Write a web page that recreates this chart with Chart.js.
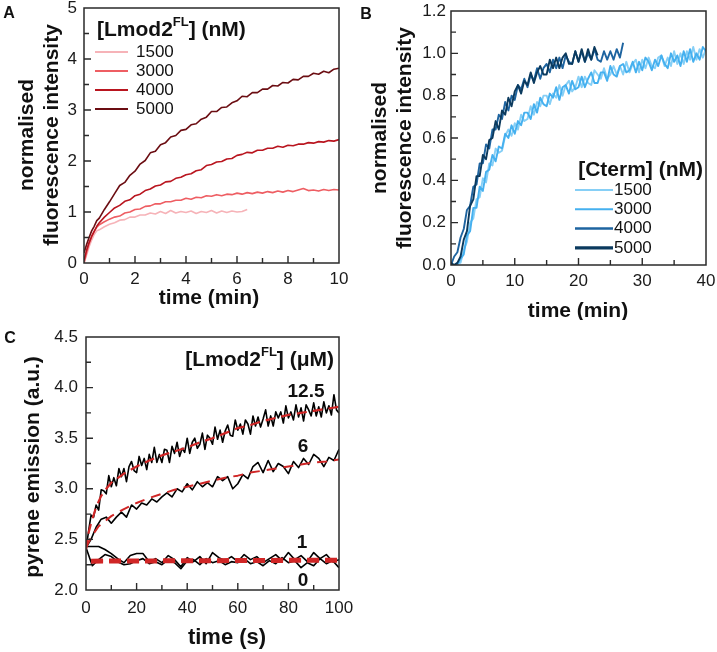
<!DOCTYPE html>
<html><head><meta charset="utf-8">
<script src="https://cdn.jsdelivr.net/npm/chart.js@4.4.1/dist/chart.umd.min.js"></script>
<style>
html,body{margin:0;padding:0;background:#fff;}
#wrap{position:relative;width:717px;height:652px;overflow:hidden;background:#fff;}
canvas{position:absolute;}
</style></head><body>
<div id="wrap">
<canvas id="cA" width="360" height="320" style="left:0;top:0;width:360px;height:320px"></canvas>
<canvas id="cB" width="357" height="320" style="left:360px;top:0;width:357px;height:320px"></canvas>
<canvas id="cC" width="440" height="332" style="left:0;top:320px;width:440px;height:332px"></canvas>
</div>
<script>
// ---------------- Panel A data ----------------
const aSeriesNames = ['1500','3000','4000','5000'];
const aTime = [0,0.1,0.2,0.3,0.4,0.5,0.6,0.8,1,1.2,1.4,1.6,1.8,2,2.2,2.4,2.6,2.8,3,3.2,3.4,3.6,3.8,4,4.2,4.4,4.6,4.8,5,5.2,5.4,5.6,5.8,6,6.2,6.4,6.6,6.8,7,7.2,7.4,7.6,7.8,8,8.2,8.4,8.6,8.8,9,9.2,9.4,9.6,9.8,10];
const a1500 = [0.00,0.15,0.32,0.45,0.56,0.63,0.65,0.71, 0.76,0.79,0.84,0.85,0.90,0.90,0.94,0.94,0.98,0.96, 1.01,0.97,1.03,0.98,1.01,0.99,1.02,0.97,1.01,0.99, 1.03,0.98,1.02,0.99,1.02,1.00,1.01,1.05];
const a3000 = [0.00,0.20,0.38,0.52,0.62,0.70,0.75,0.81, 0.86,0.90,0.92,0.98,1.00,1.05,1.06,1.11,1.12,1.16, 1.16,1.20,1.20,1.23,1.23,1.27,1.25,1.29,1.28,1.32, 1.31,1.34,1.32,1.35,1.34,1.37,1.35,1.38,1.36,1.39, 1.37,1.40,1.38,1.41,1.39,1.42,1.40,1.43,1.46,1.42, 1.43,1.41,1.44,1.42,1.44,1.43];
const a4000 = [0.05,0.25,0.40,0.52,0.62,0.72,0.79,0.90, 0.99,1.08,1.13,1.21,1.24,1.32,1.35,1.42,1.45,1.51, 1.53,1.59,1.60,1.66,1.68,1.73,1.75,1.81,1.83,1.91, 1.93,1.98,1.99,2.04,2.05,2.11,2.13,2.17,2.16,2.21, 2.21,2.25,2.25,2.29,2.27,2.31,2.30,2.33,2.33,2.36, 2.35,2.38,2.37,2.40,2.39,2.42];
const a5000 = [0.20,0.36,0.50,0.63,0.72,0.83,0.88,1.05, 1.20,1.36,1.52,1.58,1.72,1.80,1.94,2.01,2.16,2.19, 2.32,2.36,2.47,2.50,2.60,2.62,2.71,2.73,2.82,2.86, 2.97,2.97,3.05,3.06,3.14,3.18,3.27,3.26,3.34,3.34, 3.41,3.41,3.48,3.47,3.54,3.53,3.60,3.59,3.66,3.66, 3.72,3.70,3.76,3.73,3.80,3.82];
const aXMajor = [0,2,4,6,8,10], aXMinor = [1,3,5,7,9];
const aXLabels = ['0','2','4','6','8','10'];
const aYMajor = [0,1,2,3,4,5], aYMinor = [0.5,1.5,2.5,3.5,4.5];
const aYLabels = ['0','1','2','3','4','5'];

// ---------------- Panel B data ----------------
const bSeriesNames = ['1500','3000','4000','5000'];
const bTime = [0,0.5,1,1.5,2,2.5,3,3.5,4,4.5,5,5.5,6,6.5,7,7.5,8,8.5,9,9.5,10,10.5,11,11.5,12,12.5,13,13.5,14,14.5,15,15.5,16,16.5,17,17.5,18,18.5,19,19.5,20,20.5,21,21.5,22,22.5,23,23.5,24,24.5,25,25.5,26,26.5,27,27.5,28,28.5,29,29.5,30,30.5,31,31.5,32,32.5,33,33.5,34,34.5,35,35.5,36,36.5,37,37.5,38,38.5,39,39.5,40];
const b1500 = [0.00,0.00,0.01,0.01,0.07,0.11,0.20,0.22,0.31,0.32, 0.41,0.39,0.48,0.47,0.55,0.53,0.54,0.61,0.64,0.61, 0.67,0.64,0.71,0.68,0.69,0.75,0.71,0.77,0.75,0.80, 0.80,0.76,0.81,0.79,0.85,0.80,0.85,0.87,0.82,0.84, 0.89,0.84,0.89,0.86,0.85,0.92,0.90,0.88,0.93,0.88, 0.90,0.94,0.90,0.94,0.90,0.96,0.91,0.95,0.97,0.91, 0.97,0.93,0.98,0.94,0.93,0.98,0.99,0.94,0.98,0.94, 1.01,0.95,1.00,0.95,1.01,0.97,1.03,0.97,1.02,0.98, 1.02];
const b3000 = [0.00,0.00,0.00,0.03,0.05,0.14,0.16,0.27,0.27,0.37, 0.35,0.44,0.45,0.52,0.49,0.56,0.55,0.62,0.60,0.66, 0.62,0.68,0.66,0.72,0.72,0.69,0.76,0.72,0.79,0.76, 0.75,0.81,0.79,0.84,0.78,0.84,0.85,0.81,0.87,0.83, 0.84,0.89,0.84,0.88,0.91,0.86,0.86,0.91,0.91,0.87, 0.94,0.90,0.89,0.94,0.95,0.91,0.92,0.96,0.91,0.96, 0.92,0.98,0.96,0.92,0.97,0.94,0.99,0.95,0.93,1.00, 0.96,0.99,0.94,1.01,0.96,1.02,0.96,1.00,0.97,1.03, 1.01];
const b4000 = [0.00,0.04,0.06,0.13,0.17,0.26,0.28,0.37,0.38,0.48, 0.48,0.57,0.55,0.64,0.64,0.71,0.69,0.77,0.73,0.80, 0.78,0.85,0.83,0.88,0.84,0.90,0.87,0.93,0.88,0.93, 0.95,0.91,0.97,0.93,0.98,0.93,0.99,0.96,0.95,1.01, 0.96,1.01,0.96,1.00,0.97,1.02,0.97,0.96,1.01,0.97, 1.01,0.97,1.02,0.98,1.05];
const b5000 = [0.01,0.00,0.01,0.04,0.12,0.16,0.28,0.31,0.42,0.42, 0.52,0.50,0.59,0.60,0.68,0.64,0.73,0.71,0.79,0.75, 0.82,0.85,0.81,0.87,0.85,0.91,0.86,0.91,0.94,0.90, 0.90,0.97,0.93,0.98,0.93,0.98,1.00,0.95,0.95,1.01, 0.96,1.02,0.96,1.02,0.97,1.03,0.99];
const bXMajor = [0,10,20,30,40], bXMinor = [5,15,25,35];
const bXLabels = ['0','10','20','30','40'];
const bYMajor = [0,0.2,0.4,0.6,0.8,1.0,1.2], bYMinor = [0.1,0.3,0.5,0.7,0.9,1.1];
const bYLabels = ['0.0','0.2','0.4','0.6','0.8','1.0','1.2'];

// ---------------- Panel C data ----------------
const cTime1 = [0,1,2,3,4,5,6,7,8,9,10,11,12,13,14,15,16,17,18,19,20,21,22,23,24,25,26,27,28,29,30,31,32,33,34,35,36,37,38,39,40,41,42,43,44,45,46,47,48,49,50,51,52,53,54,55,56,57,58,59,60,61,62,63,64,65,66,67,68,69,70,71,72,73,74,75,76,77,78,79,80,81,82,83,84,85,86,87,88,89,90,91,92,93,94,95,96,97,98,99,100];
const c125 = [2.40,2.58,2.74,2.72,2.84,2.79,2.99,2.98,2.95,3.13, 3.02,3.11,3.03,3.20,3.12,3.20,3.07,3.22,3.27,3.18, 3.16,3.32,3.23,3.30,3.19,3.34,3.26,3.41,3.26,3.34, 3.26,3.39,3.38,3.26,3.42,3.35,3.46,3.32,3.40,3.36, 3.50,3.35,3.46,3.50,3.40,3.44,3.55,3.39,3.53,3.50, 3.44,3.61,3.49,3.58,3.46,3.57,3.63,3.53,3.52,3.68, 3.58,3.64,3.54,3.68,3.64,3.54,3.72,3.62,3.71,3.61, 3.69,3.78,3.62,3.72,3.62,3.76,3.70,3.76,3.65,3.82, 3.70,3.76,3.68,3.83,3.71,3.80,3.67,3.83,3.78,3.72, 3.85,3.72,3.81,3.71,3.86,3.75,3.82,3.73,3.93,3.78, 3.75];
const cTime2 = [0,2,4,6,8,10,12,14,16,18,20,22,24,26,28,30,32,34,36,38,40,42,44,46,48,50,52,54,56,58,60,62,64,66,68,70,72,74,76,78,80,82,84,86,88,90,92,94,96,98,100];
const c6 = [2.42,2.50,2.62,2.70,2.72,2.66,2.72,2.77,2.72,2.84, 2.80,2.86,2.84,2.90,2.87,2.92,2.96,2.92,3.00,2.97, 3.05,2.99,3.07,3.02,3.06,3.02,3.12,3.08,3.12,3.00, 3.05,3.14,3.10,3.22,3.26,3.16,3.28,3.17,3.25,3.22, 3.15,3.27,3.21,3.30,3.24,3.34,3.30,3.22,3.31,3.28, 3.39];
const cTime25 = [0,2.5,5,7.5,10,12.5,15,17.5,20,22.5,25,27.5,30,32.5,35,37.5,40,42.5,45,47.5,50,52.5,55,57.5,60,62.5,65,67.5,70,72.5,75,77.5,80,82.5,85,87.5,90,92.5,95,97.5,100];
const c1 = [2.43,2.43,2.43,2.40,2.36,2.31,2.27,2.34,2.36,2.36, 2.28,2.31,2.27,2.34,2.30,2.23,2.32,2.28,2.33,2.26, 2.37,2.32,2.29,2.33,2.28,2.35,2.30,2.33,2.27,2.31, 2.35,2.29,2.37,2.30,2.34,2.28,2.37,2.31,2.35,2.28, 2.30];
const c0 = [2.42,2.24,2.30,2.35,2.33,2.28,2.25,2.26,2.29,2.31, 2.26,2.28,2.25,2.30,2.27,2.21,2.29,2.30,2.25,2.31, 2.27,2.29,2.25,2.28,2.27,2.31,2.26,2.28,2.24,2.29, 2.26,2.32,2.27,2.29,2.22,2.27,2.24,2.31,2.26,2.29, 2.22];
const cFitTime125 = [0,1,2,4,6,8,10,15,20,25,30,35,40,45,50,55,60,65,70,75,80,85,90,95,100];
const cFit125 = [2.40,2.56,2.66,2.82,2.93,3.00,3.06,3.15,3.22,3.28,3.33,3.37,3.41,3.46,3.50,3.55,3.60,3.63,3.67,3.70,3.73,3.75,3.77,3.79,3.81];
const cFitTime6 = [0,2,5,10,15,20,25,30,35,40,45,50,55,60,65,70,75,80,85,90,95,100];
const cFit6 = [2.42,2.52,2.63,2.73,2.80,2.86,2.91,2.95,2.99,3.02,3.05,3.08,3.11,3.13,3.16,3.18,3.20,3.22,3.24,3.26,3.27,3.29];
const cFitTimeLow = [2,100];
const cFit1 = [2.29,2.30];
const cFit0 = [2.28,2.29];
const cCurveLabels = ['12.5','6','1','0'];
const cXMajor = [0,20,40,60,80,100], cXMinor = [10,30,50,70,90];
const cXLabels = ['0','20','40','60','80','100'];
const cYMajor = [2.0,2.5,3.0,3.5,4.0,4.5], cYMinor = [2.25,2.75,3.25,3.75,4.25];
const cYLabels = ['2.0','2.5','3.0','3.5','4.0','4.5'];

// ---------------- helpers ----------------
const FONT = '"Liberation Sans", Arial, Helvetica, sans-serif';
const pts = (xs, ys) => ys.map((y, i) => ({x: xs[i], y}));
const near = (a, b) => Math.abs(a - b) < 1e-9;

function axis(isX, major, minor, labels, pad, fit) {
  return {
    type: 'linear',
    min: major[0], max: major[major.length - 1],
    afterBuildTicks: s => { s.ticks = major.concat(minor).sort((p, q) => p - q).map(v => ({value: v})); },
    ticks: {
      autoSkip: false, maxRotation: 0, minRotation: 0, padding: pad, color: '#1a1a1a',
      font: {family: FONT, size: 17},
      callback: v => { const i = major.findIndex(m => near(m, v)); return i >= 0 ? labels[i] : ''; }
    },
    grid: {display: false, drawTicks: false},
    border: {display: false},
    afterFit: s => {
      if (isX) { s.height = fit; s.paddingLeft = 0; s.paddingRight = 0; }
      else { s.width = fit; s.paddingTop = 0; s.paddingBottom = 0; }
    }
  };
}

function framePlugin(xMajor, yMajor) {
  return {
    id: 'frame',
    afterDatasetsDraw(chart) {
      const {ctx, chartArea: a, scales} = chart;
      ctx.save();
      ctx.strokeStyle = '#2a2a2a';
      ctx.lineWidth = 1.5;
      ctx.strokeRect(a.left, a.top, a.right - a.left, a.bottom - a.top);
      ctx.lineWidth = 1.4;
      ctx.beginPath();
      scales.x.ticks.forEach(t => {
        const p = scales.x.getPixelForValue(t.value);
        if (p <= a.left + 1 || p >= a.right - 1) return;
        const L = xMajor.some(m => near(m, t.value)) ? 7 : 5;
        ctx.moveTo(p, a.bottom); ctx.lineTo(p, a.bottom - L);
      });
      scales.y.ticks.forEach(t => {
        const p = scales.y.getPixelForValue(t.value);
        if (p <= a.top + 1 || p >= a.bottom - 1) return;
        const L = yMajor.some(m => near(m, t.value)) ? 7 : 5;
        ctx.moveTo(a.left, p); ctx.lineTo(a.left + L, p);
      });
      ctx.stroke();
      ctx.restore();
    }
  };
}

function overlayPlugin(items) {
  return {
    id: 'overlay',
    afterDraw(chart) {
      const ctx = chart.ctx;
      items.forEach(it => {
        ctx.save();
        if (it.line) {
          ctx.strokeStyle = it.color; ctx.lineWidth = it.w;
          ctx.beginPath(); ctx.moveTo(it.line[0], it.line[2]); ctx.lineTo(it.line[1], it.line[2]); ctx.stroke();
          ctx.restore(); return;
        }
        const parts = it.parts || [{t: it.text, size: it.size, bold: it.bold}];
        ctx.fillStyle = '#111';
        ctx.textBaseline = 'middle';
        ctx.textAlign = 'left';
        let w = 0;
        parts.forEach(p => { ctx.font = (p.bold ? 'bold ' : '') + p.size + 'px ' + FONT; p.w = ctx.measureText(p.t).width; w += p.w; });
        ctx.translate(it.x, it.y);
        if (it.rot) ctx.rotate(-Math.PI / 2);
        let x0 = it.align === 'left' ? 0 : it.align === 'right' ? -w : -w / 2;
        parts.forEach(p => { ctx.font = (p.bold ? 'bold ' : '') + p.size + 'px ' + FONT; ctx.fillText(p.t, x0, p.dy || 0); x0 += p.w; });
        ctx.restore();
      });
    }
  };
}

function line(label, xs, ys, color, w, dash) {
  return {label, data: pts(xs, ys), borderColor: color, borderWidth: w, borderDash: dash || [],
          pointRadius: 0, fill: false, tension: 0, borderJoinStyle: 'round'};
}

function baseOptions(padTop, padRight, xAxis, yAxis) {
  return {
    responsive: false, animation: false, devicePixelRatio: 1,
    layout: {padding: {top: padTop, right: padRight, left: 0, bottom: 0}},
    plugins: {legend: {display: false}, tooltip: {enabled: false}},
    scales: {x: xAxis, y: yAxis}
  };
}

// ---------------- Panel A ----------------
const aColors = ['#f6b3b8', '#ee5e63', '#b9151f', '#6b0d12'];
const aVals = [a1500, a3000, a4000, a5000];
const T = 21, TB = true;
const aItems = [
  {text: 'A', size: 16, bold: true, x: 9, y: 14},
  {text: 'normalised', size: T, bold: TB, x: 27, y: 135, rot: true},
  {text: 'fluorescence intensity', size: T, bold: TB, x: 52, y: 135, rot: true},
  {text: 'time (min)', size: T, bold: TB, x: 209, y: 298},
  {parts: [{t: '[Lmod2', size: 21, bold: true}, {t: 'FL', size: 13, bold: true, dy: -8}, {t: '] (nM)', size: 21, bold: true}], x: 97, y: 30, align: 'left'}
];
aSeriesNames.forEach((n, i) => {
  const y = 52 + i * 19;
  aItems.push({line: [95, 128, y], color: aColors[i], w: 2});
  aItems.push({text: n, size: 17, bold: false, x: 136, y: y, align: 'left'});
});
new Chart(document.getElementById('cA'), {
  type: 'line',
  data: {datasets: [3, 2, 1, 0].map(i => line(aSeriesNames[i], aTime, aVals[i], aColors[i], 1.6))},
  options: baseOptions(8, 21, axis(true, aXMajor, aXMinor, aXLabels, 6, 57), axis(false, aYMajor, aYMinor, aYLabels, 7, 84)),
  plugins: [framePlugin(aXMajor, aYMajor), overlayPlugin(aItems)]
});

// ---------------- Panel B ----------------
const bColors = ['#86cff6', '#45b0ef', '#1e64a0', '#0b3a5e'];
const bWidths = [1.9, 1.9, 1.9, 1.9];
const bLegW = [2, 2, 2.5, 3.2];
const bVals = [b1500, b3000, b4000, b5000];
const bItems = [
  {text: 'B', size: 16, bold: true, x: 6, y: 15},
  {text: 'normalised', size: T, bold: TB, x: 20, y: 138, rot: true},
  {text: 'fluorescence intensity', size: T, bold: TB, x: 45, y: 138, rot: true},
  {text: 'time (min)', size: T, bold: TB, x: 218, y: 311},
  {text: '[Cterm] (nM)', size: 21, bold: true, x: 343, y: 170, align: 'right'}
];
bSeriesNames.forEach((n, i) => {
  const y = 190 + i * 19.3;
  bItems.push({line: [215, 253, y], color: bColors[i], w: bLegW[i]});
  bItems.push({text: n, size: 17, bold: false, x: 254, y: y, align: 'left'});
});
new Chart(document.getElementById('cB'), {
  type: 'line',
  data: {datasets: [3, 2, 1, 0].map(i => line(bSeriesNames[i], bTime, bVals[i], bColors[i], bWidths[i]))},
  options: baseOptions(11, 11, axis(true, bXMajor, bXMinor, bXLabels, 6, 55), axis(false, bYMajor, bYMinor, bYLabels, 5, 91)),
  plugins: [framePlugin(bXMajor, bYMajor), overlayPlugin(bItems)]
});

// ---------------- Panel C ----------------
const RED = '#d02626';
const cItems = [
  {text: 'C', size: 16, bold: true, x: 10, y: 19},
  {text: 'pyrene emission (a.u.)', size: T, bold: TB, x: 33, y: 147, rot: true},
  {text: 'time (s)', size: 22, bold: TB, x: 227, y: 318},
  {parts: [{t: '[Lmod2', size: 21, bold: true}, {t: 'FL', size: 13, bold: true, dy: -8}, {t: '] (\u03bcM)', size: 21, bold: true}], x: 334, y: 40, align: 'right'},
  {text: cCurveLabels[0], size: 19, bold: true, x: 306, y: 72},
  {text: cCurveLabels[1], size: 19, bold: true, x: 303, y: 127},
  {text: cCurveLabels[2], size: 19, bold: true, x: 302, y: 223},
  {text: cCurveLabels[3], size: 19, bold: true, x: 303, y: 261}
];
new Chart(document.getElementById('cC'), {
  type: 'line',
  data: {datasets: [
    line('fit 12.5', cFitTime125, cFit125, RED, 2.2, [10, 6]),
    line('fit 6', cFitTime6, cFit6, RED, 2, [10, 7]),
    line('fit 1', cFitTimeLow, cFit1, RED, 4, [12, 6]),
    line('fit 0', cFitTimeLow, cFit0, RED, 4, [12, 6]),
    line('12.5', cTime1, c125, '#000', 1.6),
    line('6', cTime2, c6, '#000', 1.6),
    line('1', cTime25, c1, '#000', 1.6),
    line('0', cTime25, c0, '#000', 1.6)
  ]},
  options: baseOptions(17, 101, axis(true, cXMajor, cXMinor, cXLabels, 8, 62), axis(false, cYMajor, cYMinor, cYLabels, 8, 86)),
  plugins: [framePlugin(cXMajor, cYMajor), overlayPlugin(cItems)]
});
</script>
</body></html>
